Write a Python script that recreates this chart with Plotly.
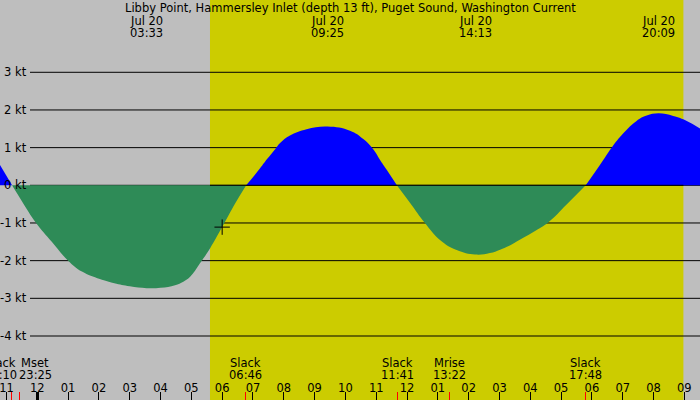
import plotly.graph_objects as go

# ---- data (hours relative to midnight Jul 20, knots) ----
hours = [-1.21, -0.82, -0.5, -0.04, 0.47, 1.0, 1.45, 2.03, 2.5, 3.0, 3.55, 4.0, 4.47,
         4.74, 4.96, 5.28, 5.61, 6.0, 6.36, 6.78,
         7.23, 7.45, 7.72, 7.88, 8.2, 8.74, 9.42, 10.15, 10.58, 10.91, 11.12, 11.34, 11.67,
         12.1, 12.58, 13.07, 13.61, 14.21, 14.69, 15.02, 15.3, 15.56, 16.1, 16.59, 17.18, 17.8,
         18.26, 18.64, 19.02, 19.45, 19.78, 20.16, 20.64, 21.08, 21.51]
knots = [0.54, 0, -0.42, -1.0, -1.5, -2.0, -2.29, -2.49, -2.6, -2.68, -2.73, -2.72, -2.65,
         -2.56, -2.43, -2.07, -1.67, -1.11, -0.57, 0,
         0.45, 0.69, 0.96, 1.12, 1.32, 1.49, 1.56, 1.45, 1.23, 0.95, 0.68, 0.41, 0,
         -0.47, -1.0, -1.45, -1.72, -1.84, -1.8, -1.71, -1.61, -1.49, -1.24, -0.98, -0.51, 0,
         0.54, 1.0, 1.38, 1.71, 1.85, 1.91, 1.84, 1.71, 1.51]

max_times = [3.55, 9.417, 14.217, 20.15]
max_dates = ["Jul 20", "Jul 20", "Jul 20", "Jul 20"]
max_clock = ["03:33", "09:25", "14:13", "20:09"]

event_times = [-0.833, -0.583, 6.767, 11.683, 13.367, 17.8]
event_names = ["Slack", "Mset", "Slack", "Slack", "Mrise", "Slack"]
event_clock = ["23:10", "23:25", "06:46", "11:41", "13:22", "17:48"]

hour_ticks = list(range(-1, 22))
hour_labels = ["11", "12", "01", "02", "03", "04", "05", "06", "07", "08", "09", "10",
               "11", "12", "01", "02", "03", "04", "05", "06", "07", "08", "09"]

kt_ticks = [3, 2, 1, 0, -1, -2, -3, -4]
kt_labels = ["3 kt", "2 kt", "1 kt", "0 kt", "-1 kt", "-2 kt", "-3 kt", "-4 kt"]

sunrise, sunset = 5.605, 20.97
now_time, now_value = 6.0, -1.11

title = "Libby Point, Hammersley Inlet (depth 13 ft), Puget Sound, Washington Current"

# ---- style ----
FONT = "DejaVu Sans"
GRAY = "#BEBEBE"
DAY = "#CCCC00"
FLOOD = "#0000FF"
EBB = "#2E8B57"
W, H = 700, 400
XR = [-1.2107, 21.509]
YR = [-5.699, 4.919]
TF = dict(size=11.5, family=FONT, color="black")

fig = go.Figure()

# split into segments between slack (zero) points
segs = []
cur = [0]
for i in range(1, len(hours)):
    cur.append(i)
    if knots[i] == 0 and i != len(hours) - 1:
        segs.append(cur)
        cur = [i]
segs.append(cur)

for s in segs:
    xs = [hours[i] for i in s]
    ys = [knots[i] for i in s]
    sign = max(ys, key=abs)
    col = FLOOD if sign > 0 else EBB
    fig.add_trace(go.Scatter(x=xs, y=ys, mode="lines",
                             line=dict(color=col, width=0, shape="spline", smoothing=1.2),
                             fill="tozeroy", fillcolor=col, hoverinfo="skip"))

fig.add_trace(go.Scatter(x=[now_time], y=[now_value], mode="markers", hoverinfo="skip",
                         marker=dict(symbol="cross-thin", size=11, line=dict(color="black", width=1))))

shapes = [dict(type="rect", xref="x", yref="paper", x0=sunrise, x1=sunset, y0=0, y1=1,
               fillcolor=DAY, line=dict(width=0), layer="below")]
for v in kt_ticks:
    shapes.append(dict(type="line", xref="paper", yref="y", x0=30 / W, x1=1, y0=v, y1=v,
                       line=dict(color="black", width=1), layer="below"))
shapes.append(dict(type="line", xref="x", yref="y", x0=sunrise, x1=sunset, y0=0, y1=0,
                   line=dict(color="black", width=1), layer="above"))

def py(px):
    return 1 - px / H

ann = [dict(text=title, xref="paper", yref="paper", x=0.5, y=py(8.5), showarrow=False,
            xanchor="center", yanchor="middle", font=TF)]
for t, d, c in zip(max_times, max_dates, max_clock):
    ann.append(dict(text=d, xref="x", yref="paper", x=t, y=py(20.5), showarrow=False,
                    xanchor="center", yanchor="middle", font=TF))
    ann.append(dict(text=c, xref="x", yref="paper", x=t, y=py(32.5), showarrow=False,
                    xanchor="center", yanchor="middle", font=TF))
shifts = [-11, 16, 0, 0, 0, 0]
for t, n, c, sh in zip(event_times, event_names, event_clock, shifts):
    ann.append(dict(text=n, xref="x", yref="paper", x=t, y=py(362.5), showarrow=False,
                    xanchor="center", yanchor="middle", xshift=sh, font=TF))
    ann.append(dict(text=c, xref="x", yref="paper", x=t, y=py(374.5), showarrow=False,
                    xanchor="center", yanchor="middle", xshift=sh, font=TF))
for v, lab in zip(kt_ticks, kt_labels):
    ann.append(dict(text=lab, xref="paper", yref="y", x=28.5 / W, y=v, showarrow=False,
                    xanchor="right", yanchor="middle", font=TF))

axis_common = dict(range=XR, showgrid=False, zeroline=False, showline=False, tickmode="array")
fig.update_layout(
    width=W, height=H, margin=dict(l=0, r=0, t=0, b=0),
    paper_bgcolor=GRAY, plot_bgcolor=GRAY, showlegend=False,
    shapes=shapes, annotations=ann,
    xaxis=dict(**axis_common, domain=[0, 1], tickvals=hour_ticks, ticktext=hour_labels,
               ticks="inside", ticklen=5, tickwidth=1, tickcolor="rgba(0,0,0,0)",
               ticklabelposition="inside", ticklabeloverflow="allow", tickfont=TF),
    xaxis2=dict(**axis_common, overlaying="x", anchor="y", side="bottom", tickvals=hour_ticks,
                ticks="inside", ticklen=8, tickwidth=1, tickcolor="black", showticklabels=False),
    xaxis3=dict(**axis_common, overlaying="x", anchor="y", side="bottom", tickvals=event_times,
                ticks="inside", ticklen=8, tickwidth=1, tickcolor="red", showticklabels=False),
    xaxis4=dict(**axis_common, overlaying="x", anchor="y", side="bottom", tickvals=[0],
                ticks="inside", ticklen=8, tickwidth=3, tickcolor="black", showticklabels=False),
    yaxis=dict(range=YR, domain=[0, 1], showgrid=False, zeroline=False, showline=False,
               showticklabels=False, ticks=""),
)
# invisible anchor traces so overlay axes are drawn
for ax in ["x2", "x3", "x4"]:
    fig.add_trace(go.Scatter(x=[XR[0]], y=[YR[0]], xaxis=ax, mode="markers",
                             marker=dict(opacity=0), hoverinfo="skip"))

fig.write_html("out.html")
